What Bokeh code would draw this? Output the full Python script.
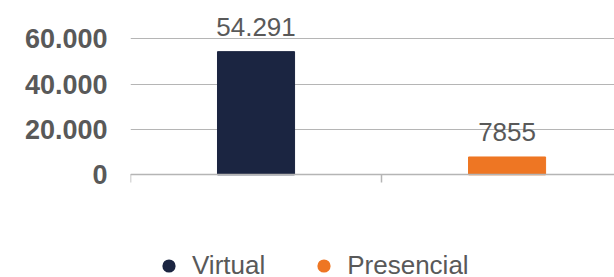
from bokeh.plotting import figure
from bokeh.models import Range1d, FixedTicker, Legend, LegendItem, ColumnDataSource, LabelSet
from bokeh.core.properties import value
from bokeh.embed import file_html
from bokeh.resources import INLINE

categories = ["Virtual", "Presencial"]
values = [54291, 7855]
value_labels = ["54.291", "7855"]
colors = ["#1B2541", "#EE7623"]
y_ticks = [0, 20000, 40000, 60000]
y_tick_labels = ["0", "20.000", "40.000", "60.000"]

FONT = "Liberation Sans"
GREY = "#595959"

xs = [i + 0.5 for i in range(len(categories))]
src = ColumnDataSource(dict(x=xs, top=values, color=colors, lab=value_labels, cat=categories))

p = figure(width=614, height=277, output_backend="svg", toolbar_location=None,
           x_range=Range1d(0, 1.928), y_range=Range1d(-45270, 76834),
           min_border_left=130, min_border_right=0, min_border_top=0, min_border_bottom=0)
p.outline_line_color = None
p.background_fill_color = "white"

p.vbar(x="x", top="top", width=0.307, color="color", source=src)

labels = LabelSet(x="x", y="top", text="lab", source=src, text_align="center",
                  text_baseline="alphabetic", y_offset=16, text_font=value(FONT),
                  text_font_size="26px", text_color=GREY)
p.add_layout(labels)

# y axis
p.yaxis.ticker = FixedTicker(ticks=y_ticks)
p.yaxis.major_label_overrides = dict(zip(y_ticks, y_tick_labels))
p.yaxis.axis_line_color = None
p.yaxis.major_tick_line_color = None
p.yaxis.minor_tick_line_color = None
p.yaxis.major_tick_out = 0
p.yaxis.major_tick_in = 0
p.yaxis.major_label_standoff = 23
p.yaxis.major_label_text_font = FONT
p.yaxis.major_label_text_font_size = "27px"
p.yaxis.major_label_text_font_style = "bold"
p.yaxis.major_label_text_color = GREY

# x axis, drawn at y = 0 inside the frame
p.xaxis.fixed_location = 0
p.xaxis.ticker = FixedTicker(ticks=[0, 1, 2])
p.xaxis.major_label_overrides = {0: "", 1: "", 2: ""}
p.xaxis.major_label_text_font_size = "1px"
p.xaxis.axis_line_color = "#B5B5B5"
p.xaxis.axis_line_width = 1.5
p.xaxis.major_tick_line_color = "#B5B5B5"
p.xaxis.major_tick_line_width = 1.5
p.xaxis.major_tick_out = 8
p.xaxis.major_tick_in = 0
p.xaxis.minor_tick_line_color = None

p.xgrid.grid_line_color = None
p.ygrid.grid_line_color = "#B5B5B5"
p.ygrid.grid_line_width = 1

# legend markers
items = []
for i, (c, v, col) in enumerate(zip(categories, values, colors)):
    r = p.scatter(x=[xs[i]], y=[v], size=0, fill_color=col, line_color=None)
    items.append(LegendItem(label=c, renderers=[r]))

legend = Legend(items=items, orientation="horizontal", location=(22, -5),
                glyph_width=33, glyph_height=33, label_standoff=7, spacing=42,
                padding=0, margin=0, border_line_color=None, background_fill_alpha=0,
                label_text_font=FONT, label_text_font_size="26px", label_text_color=GREY)
p.add_layout(legend, "center")

open("out.html", "w").write(file_html(p, INLINE))
